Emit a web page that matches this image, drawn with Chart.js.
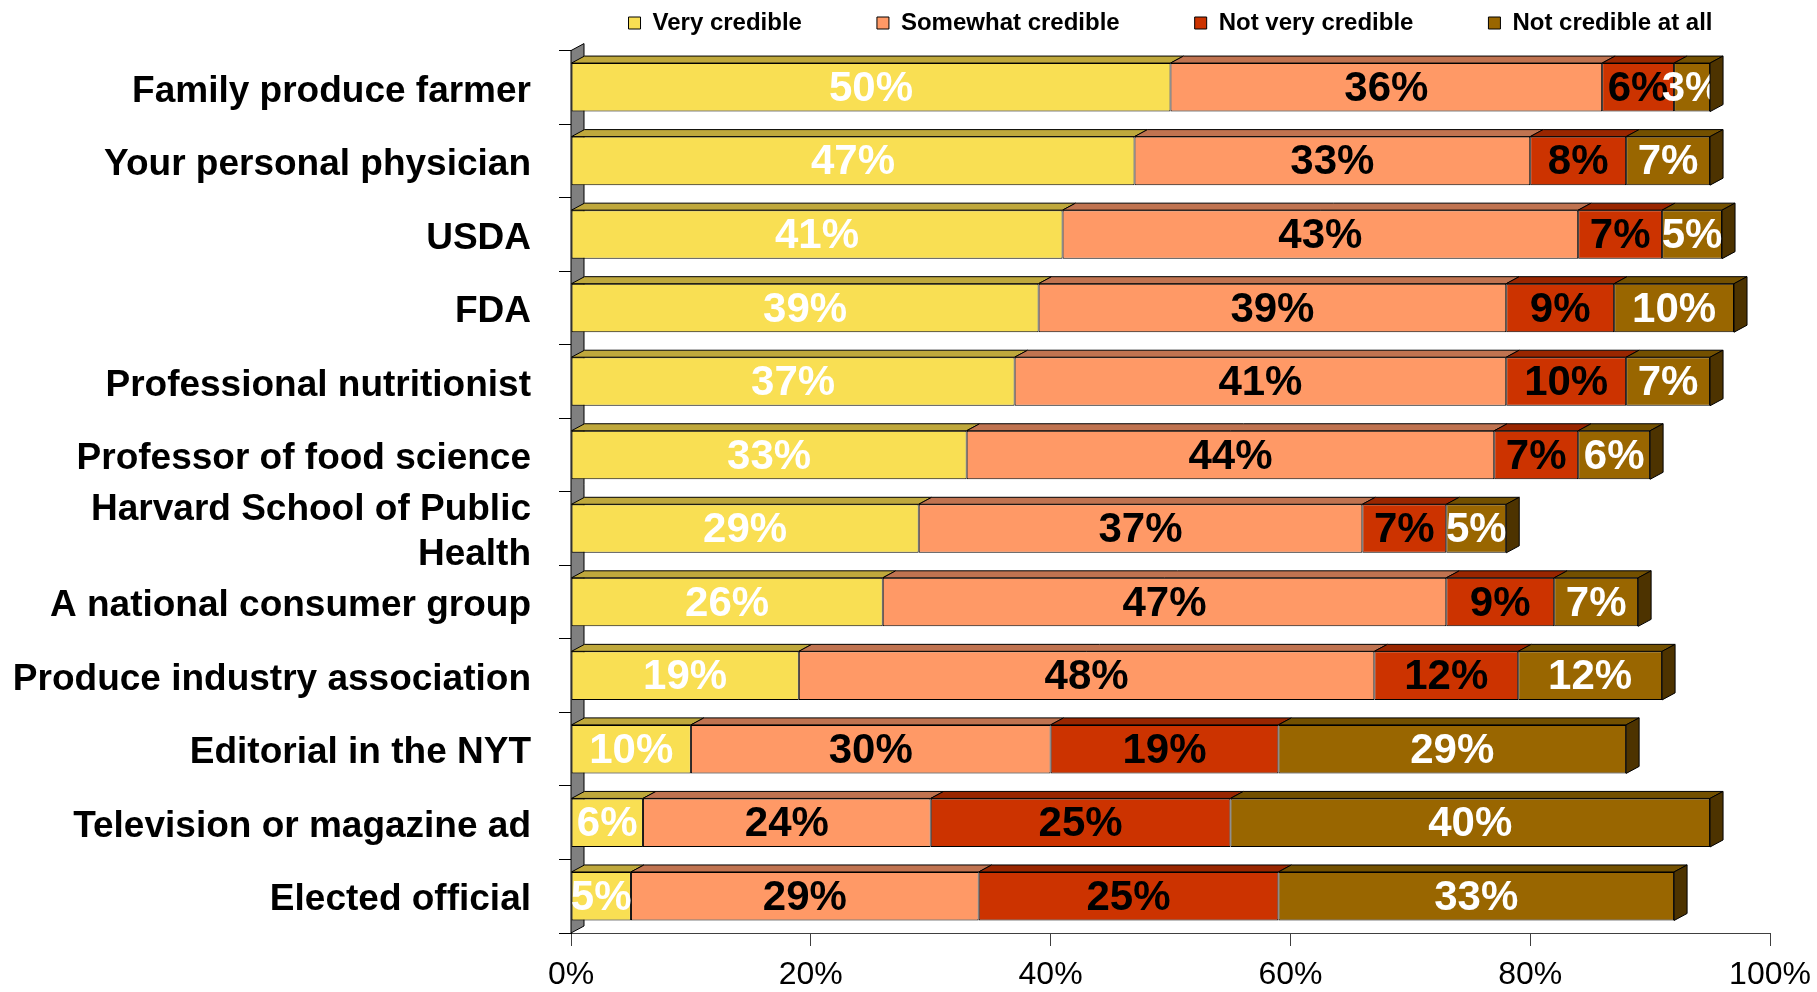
<!DOCTYPE html>
<html>
<head>
<meta charset="utf-8">
<script src="https://cdn.jsdelivr.net/npm/chart.js@4.4.1/dist/chart.umd.min.js"></script>
<style>
  html, body { margin: 0; padding: 0; background: #ffffff; }
  #wrap { width: 1817px; height: 992px; position: relative; }
</style>
</head>
<body>
<div id="wrap"><canvas id="c"></canvas></div>
<script>
// ---------- data ----------
const categories = [
  'Family produce farmer',
  'Your personal physician',
  'USDA',
  'FDA',
  'Professional nutritionist',
  'Professor of food science',
  ['Harvard School of Public', 'Health'],
  'A national consumer group',
  'Produce industry association',
  'Editorial in the NYT',
  'Television or magazine ad',
  'Elected official'
];
const seriesNames = ['Very credible', 'Somewhat credible', 'Not very credible', 'Not credible at all'];
const veryCredible      = [50, 47, 41, 39, 37, 33, 29, 26, 19, 10,  6,  5];
const somewhatCredible  = [36, 33, 43, 39, 41, 44, 37, 47, 48, 30, 24, 29];
const notVeryCredible   = [ 6,  8,  7,  9, 10,  7,  7,  9, 12, 19, 25, 25];
const notCredibleAtAll  = [ 3,  7,  5, 10,  7,  6,  5,  7, 12, 29, 40, 33];
const xTickValues = [0, 20, 40, 60, 80, 100];

// ---------- styles ----------
const frontColors = ['#F9DF53', '#FF9966', '#CC3300', '#996600'];
const topColors   = ['#BFA83C', '#C07350', '#992600', '#735000'];
const sideColors  = ['#7F6F28', '#804D33', '#661A00', '#4D3300'];
const labelColors = ['#FFFFFF', '#000000', '#000000', '#FFFFFF'];
const DX = 13, DY = 7;
const LEGEND_ITEM_TOP = 11;

Chart.defaults.font.family = '"Liberation Sans", Arial, Helvetica, sans-serif';
Chart.defaults.color = '#000000';

const seriesValues = [veryCredible, somewhatCredible, notVeryCredible, notCredibleAtAll];

const datasets = seriesNames.map((name, j) => ({
  label: name,
  data: seriesValues[j],
  backgroundColor: frontColors[j],
  borderColor: '#000000',
  borderWidth: 1,
  borderSkipped: false,
  categoryPercentage: 1.0,
  barPercentage: 0.66
}));

const bars3d = {
  id: 'bars3d',
  beforeDatasetsDraw(chart) {
    const { ctx, chartArea: a } = chart;
    ctx.save();
    ctx.beginPath();
    ctx.moveTo(a.left, a.top);
    ctx.lineTo(a.left + DX, a.top - DY);
    ctx.lineTo(a.left + DX, a.bottom - DY);
    ctx.lineTo(a.left, a.bottom);
    ctx.closePath();
    ctx.fillStyle = '#808080';
    ctx.fill();
    ctx.strokeStyle = '#000000';
    ctx.lineWidth = 1;
    ctx.stroke();
    ctx.restore();
  },
  afterDatasetsDraw(chart) {
    const ctx = chart.ctx;
    const nSets = chart.data.datasets.length;
    // value labels
    ctx.save();
    ctx.font = 'bold 42px "Liberation Sans", Arial, sans-serif';
    ctx.textAlign = 'center';
    ctx.textBaseline = 'middle';
    chart.data.datasets.forEach((ds, j) => {
      const meta = chart.getDatasetMeta(j);
      meta.data.forEach((el, i) => {
        const cx = (el.x + el.base) / 2;
        ctx.fillStyle = labelColors[j];
        ctx.fillText(ds.data[i] + '%', cx, el.y + 2);
      });
    });
    ctx.restore();
    // 3D faces
    ctx.save();
    ctx.lineWidth = 1;
    ctx.strokeStyle = '#000000';
    const rows = chart.data.labels.length;
    for (let i = 0; i < rows; i++) {
      for (let j = 0; j < nSets; j++) {
        const el = chart.getDatasetMeta(j).data[i];
        const top = el.y - el.height / 2;
        const x0 = Math.min(el.base, el.x), x1 = Math.max(el.base, el.x);
        ctx.beginPath();
        ctx.moveTo(x0, top);
        ctx.lineTo(x0 + DX, top - DY);
        ctx.lineTo(x1 + DX, top - DY);
        ctx.lineTo(x1, top);
        ctx.closePath();
        ctx.fillStyle = topColors[j];
        ctx.fill();
        ctx.stroke();
      }
      const last = nSets - 1;
      const el = chart.getDatasetMeta(last).data[i];
      const top = el.y - el.height / 2, bottom = el.y + el.height / 2;
      const xr = Math.max(el.base, el.x);
      ctx.beginPath();
      ctx.moveTo(xr, top);
      ctx.lineTo(xr + DX, top - DY);
      ctx.lineTo(xr + DX, bottom - DY);
      ctx.lineTo(xr, bottom);
      ctx.closePath();
      ctx.fillStyle = sideColors[last];
      ctx.fill();
      ctx.stroke();
    }
    ctx.restore();
  }
};

const legendPlace = {
  id: 'legendPlace',
  afterLayout(chart) {
    const lg = chart.legend;
    if (!lg) return;
    const a = chart.chartArea;
    const c = (a.left + a.right) / 2;
    lg.left = c - 800;
    lg.right = c + 800;
    lg.width = 1600;
    lg.top = LEGEND_ITEM_TOP - lg.options.labels.padding;
  }
};

new Chart(document.getElementById('c'), {
  type: 'bar',
  data: { labels: categories, datasets },
  plugins: [bars3d, legendPlace],
  options: {
    indexAxis: 'y',
    responsive: true,
    maintainAspectRatio: false,
    devicePixelRatio: 1,
    animation: false,
    layout: { padding: { top: 0, right: 47, bottom: 0, left: 0 } },
    plugins: {
      tooltip: { enabled: false },
      legend: {
        display: true,
        position: 'top',
        align: 'center',
        maxHeight: 50,
        labels: {
          boxWidth: 12,
          boxHeight: 12,
          padding: 75,
          color: '#000000',
          font: { size: 24, weight: 'bold' },
          generateLabels(chart) {
            return chart.data.datasets.map((ds, j) => ({
              text: ds.label,
              fillStyle: frontColors[j],
              strokeStyle: '#000000',
              lineWidth: 1,
              hidden: false,
              datasetIndex: j
            }));
          }
        }
      }
    },
    scales: {
      x: {
        type: 'linear',
        stacked: true,
        min: 0,
        max: 100,
        afterBuildTicks(scale) { scale.ticks = xTickValues.map(v => ({ value: v })); },
        afterFit(scale) {
          scale.height = 59;
          scale.paddingLeft = 0;
          scale.paddingRight = 0;
        },
        ticks: {
          callback: v => v + '%',
          font: { size: 32 },
          color: '#000000',
          padding: 10,
          maxRotation: 0
        },
        grid: { drawOnChartArea: false, drawTicks: true, tickLength: 13, color: '#404040' },
        border: { display: true, color: '#404040' }
      },
      y: {
        type: 'category',
        stacked: true,
        afterFit(scale) { scale.width = 571; },
        ticks: {
          autoSkip: false,
          font: { size: 37, weight: 'bold', lineHeight: 1.22 },
          color: '#000000',
          padding: 28,
          labelOffset: 4
        },
        grid: { drawOnChartArea: false, drawTicks: true, tickLength: 12, offset: true, color: '#000000' },
        border: { display: true, color: '#000000' }
      }
    }
  }
});
</script>
</body>
</html>
